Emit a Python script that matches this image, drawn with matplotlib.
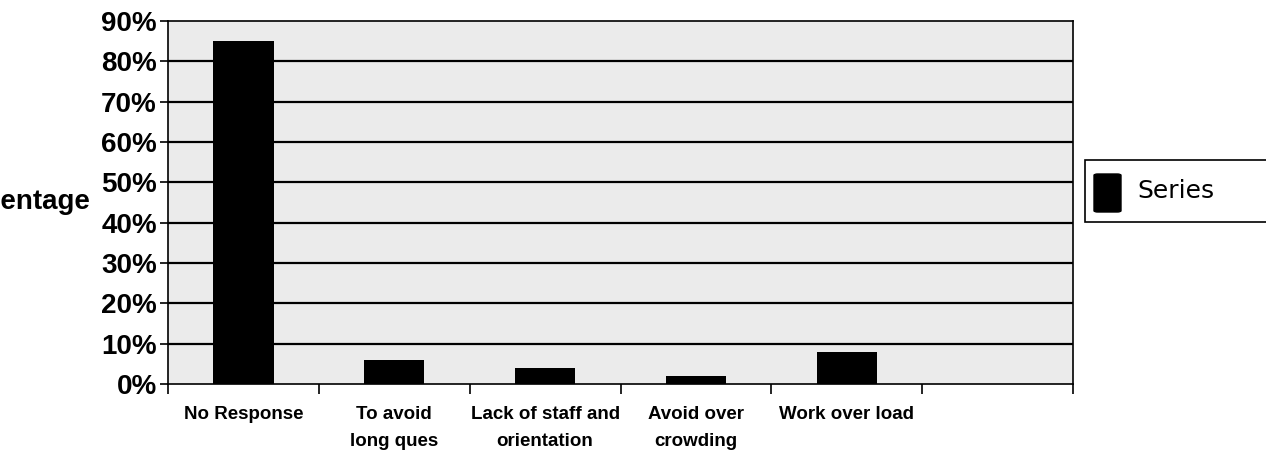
import matplotlib
matplotlib.use("Agg")
import matplotlib.pyplot as plt
from matplotlib.patches import FancyBboxPatch
from matplotlib import font_manager

# survey responses, share of respondents
categories = ["No Response", "To avoid\nlong ques", "Lack of staff and\norientation",
              "Avoid over\ncrowding", "Work over load"]
values = [85, 6, 4, 2, 8]
n_slots = 6
yticks = list(range(0, 91, 10))

names = {f.name for f in font_manager.fontManager.ttflist}
narrow = "Liberation Sans Narrow" if "Liberation Sans Narrow" in names else "Liberation Sans"

fig = plt.figure(figsize=(12.66, 4.55), dpi=100)
ax = fig.add_axes([168 / 1266, 1 - 384 / 455, (1073 - 168) / 1266, (384 - 21) / 455])
ax.set_facecolor("#ebebeb")

pos = [i + 0.5 for i in range(len(values))]
ax.bar(pos, values, width=0.4, color="black", zorder=3)

ax.set_xlim(0, n_slots)
ax.set_ylim(0, 90)
ax.set_yticks(yticks)
ax.set_yticklabels([f"{v}%" for v in yticks], fontfamily="Liberation Sans",
                   fontweight="bold", fontsize=20)
for v in yticks[1:-1]:
    ax.axhline(v, color="black", lw=1.6, zorder=2)

ax.set_xticks(range(n_slots + 1))
ax.set_xticklabels([])
ax.set_xticks(pos, minor=True)
ax.set_xticklabels(categories, minor=True, fontfamily=narrow, fontweight="bold",
                   fontsize=13.5, linespacing=1.75)
ax.tick_params(axis="x", which="major", direction="out", length=7, width=1.2)
ax.tick_params(axis="x", which="minor", length=0, pad=16)
ax.tick_params(axis="y", direction="out", length=6, width=1.2, pad=2)
for sp in ax.spines.values():
    sp.set_color("black")
    sp.set_linewidth(1.2)

fig.text(90 / 1266, 1 - 202 / 455, "Percentage", ha="right", va="center",
         fontfamily="Liberation Sans", fontweight="bold", fontsize=20)

# legend box on the right
fig.patches.append(plt.Rectangle((1085 / 1266, 1 - 222 / 455), 0.2, 62 / 455,
                                 transform=fig.transFigure, facecolor="white",
                                 edgecolor="black", lw=1.2))
fig.patches.append(FancyBboxPatch((1094 / 1266, 1 - 212 / 455), 27 / 1266, 38 / 455,
                                  boxstyle="round,pad=0,rounding_size=0.003",
                                  transform=fig.transFigure, facecolor="black",
                                  edgecolor="black"))
fig.text(1137 / 1266, 1 - 191 / 455, "Series", ha="left", va="center",
         fontfamily="DejaVu Sans", fontsize=18)

fig.savefig("out.png", dpi=100)
